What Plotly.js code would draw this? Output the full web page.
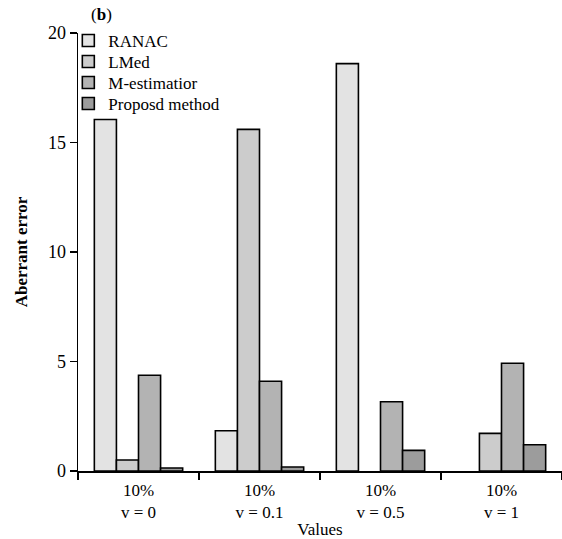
<!DOCTYPE html>
<html>
<head>
<meta charset="utf-8">
<script src="https://cdn.plot.ly/plotly-3.0.1.min.js"></script>
<style>html,body{margin:0;padding:0;background:#fff;}#chart{width:562px;height:539px;}</style>
</head>
<body>
<div id="chart"></div>
<script>
const categories = ["10%<br>v = 0", "10%<br>v = 0.1", "10%<br>v = 0.5", "10%<br>v = 1"];
const seriesNames = ["RANAC", "LMed", "M-estimatior", "Proposd method"];
const ranac = [16.05, 1.84, 18.6, null];
const lmed = [0.5, 15.6, null, 1.72];
const mEstimator = [4.37, 4.1, 3.16, 4.92];
const proposed = [0.14, 0.18, 0.94, 1.2];
const seriesValues = [ranac, lmed, mEstimator, proposed];
const colors = ["#e3e3e3", "#cccccc", "#b3b3b3", "#9c9c9c"];

const serif = '"Liberation Serif", "Times New Roman", serif';
const legendIds = ["legend", "legend2", "legend3", "legend4"];
const traces = seriesValues.map((vals, i) => ({
  type: "bar",
  name: seriesNames[i],
  x: categories,
  y: vals,
  legend: legendIds[i],
  marker: {color: colors[i], line: {color: "#000", width: 1.6}}
}));

const plotTop = 33, plotH = 438;
const rowPx = [41, 62, 83, 104];

const layout = {
  width: 562, height: 539,
  margin: {l: 78, r: 0, t: plotTop, b: 68},
  paper_bgcolor: "#fff", plot_bgcolor: "#fff",
  font: {family: serif, color: "#000", size: 16},
  barmode: "group",
  bargap: 0.27,
  bargroupgap: 0,
  showlegend: true,
  xaxis: {
    type: "category",
    showline: true, linecolor: "#000", linewidth: 1.5,
    ticks: "outside", tickson: "boundaries", ticklen: 7, tickcolor: "#000", tickwidth: 1.5,
    ticklabelstandoff: 3,
    tickfont: {family: serif, size: 17},
    showgrid: false, zeroline: false,
    title: {text: "Values", font: {family: serif, size: 17}, standoff: 4}
  },
  yaxis: {
    range: [0, 20],
    tickvals: [0, 5, 10, 15, 20],
    showline: true, linecolor: "#000", linewidth: 1.5,
    ticks: "outside", ticklen: 7, tickcolor: "#000", tickwidth: 1.5,
    tickfont: {family: serif, size: 18},
    showgrid: false, zeroline: false,
    title: {text: "<b>Aberrant error</b>", font: {family: serif, size: 17}, standoff: 16}
  },
  annotations: [{
    xref: "paper", yref: "paper", x: 0.022, y: 1.0, yshift: 19,
    xanchor: "left", yanchor: "middle", showarrow: false,
    text: "(<b>b</b>)", font: {family: serif, size: 17}
  }]
};
legendIds.forEach((id, i) => {
  layout[id] = {
    x: -0.02, xanchor: "left",
    y: 1 - (rowPx[i] - plotTop) / plotH, yanchor: "middle",
    bgcolor: "rgba(0,0,0,0)", font: {family: serif, size: 17},
    itemwidth: 30
  };
});

Plotly.newPlot("chart", traces, layout, {displayModeBar: false, staticPlot: true});
</script>
</body>
</html>
